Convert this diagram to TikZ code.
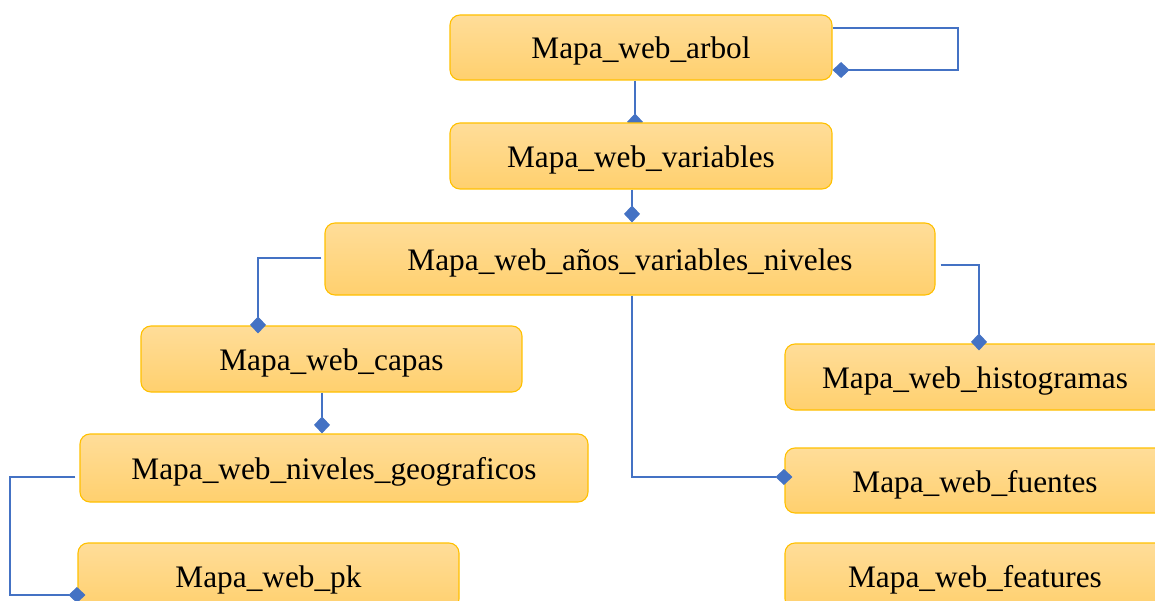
\documentclass[tikz,border=0pt]{standalone}
\usepackage{fontspec}
\setmainfont{Liberation Serif}
\usetikzlibrary{arrows.meta,calc}
\definecolor{boxtop}{RGB}{255,221,153}
\definecolor{boxbot}{RGB}{255,208,110}
\definecolor{boxline}{RGB}{255,192,0}
\definecolor{linkblue}{RGB}{68,114,196}
\pgfdeclarelayer{back}
\pgfsetlayers{back,main}
\begin{document}
\begin{tikzpicture}[x=1pt,y=-1pt,
  tablebox/.style={draw=boxline, line width=1.1pt, rounded corners=10pt,
    top color=boxtop, bottom color=boxbot, inner sep=0pt, anchor=center,
    font=\fontsize{31.3}{36}\selectfont, minimum height=66pt,
    text height=23pt, text depth=0pt},
  linkline/.style={draw=linkblue, line width=1.2pt,
    -{Diamond[length=17pt,width=16pt,fill=linkblue]}}]
\useasboundingbox (0,0) rectangle (1155,601);
\clip (0,0) rectangle (1155,601);

% tables
\node[tablebox, minimum width=382pt, minimum height=65pt] (arbol) at (641,47.5) {Mapa\_web\_arbol};
\node[tablebox, minimum width=382pt] (variables) at (641,156) {Mapa\_web\_variables};
\node[tablebox, minimum width=610pt, minimum height=72pt] (anos) at (630,259) {Mapa\_web\_años\_variables\_niveles};
\node[tablebox, minimum width=381pt] (capas) at (331.5,359) {Mapa\_web\_capas};
\node[tablebox, minimum width=508pt, minimum height=68pt] (niveles) at (334,468) {Mapa\_web\_niveles\_geograficos};
\node[tablebox, minimum width=381pt] (pk) at (268.5,576) {Mapa\_web\_pk};
\node[tablebox, minimum width=380pt] (histo) at (975,377) {Mapa\_web\_histogramas};
\node[tablebox, minimum width=380pt, minimum height=65pt] (fuentes) at (975,480.5) {Mapa\_web\_fuentes};
\node[tablebox, minimum width=380pt] (features) at (975,576) {Mapa\_web\_features};

% relations
\draw[linkline] (arbol.east |- 0,28) -- (958,28) -- (958,70) -- (arbol.east |- 0,70);
\begin{pgfonlayer}{back}
\draw[linkline] (arbol.south -| 635,0) -- ($(variables.north -| 635,0)+(0,8)$);
\end{pgfonlayer}
\draw[linkline] (variables.south -| 632,0) -- (anos.north -| 632,0);
\draw[linkline] ($(anos.west |- 0,258)+(-3,0)$) -- (258,258) -- ($(capas.north -| 258,0)+(0,8)$);
\draw[linkline] (capas.south -| 322,0) -- (niveles.north -| 322,0);
\draw[linkline] ($(niveles.west |- 0,477)+(-4,0)$) -- (10,477) -- (10,595) -- ($(pk.west |- 0,595)+(8,0)$);
\draw[linkline] ($(anos.east |- 0,265)+(5,0)$) -- (979,265) -- ($(histo.north -| 979,0)+(0,7)$);
\draw[linkline] (anos.south -| 632,0) -- (632,477) -- ($(fuentes.west |- 0,477)+(8,0)$);
\end{tikzpicture}
\end{document}
